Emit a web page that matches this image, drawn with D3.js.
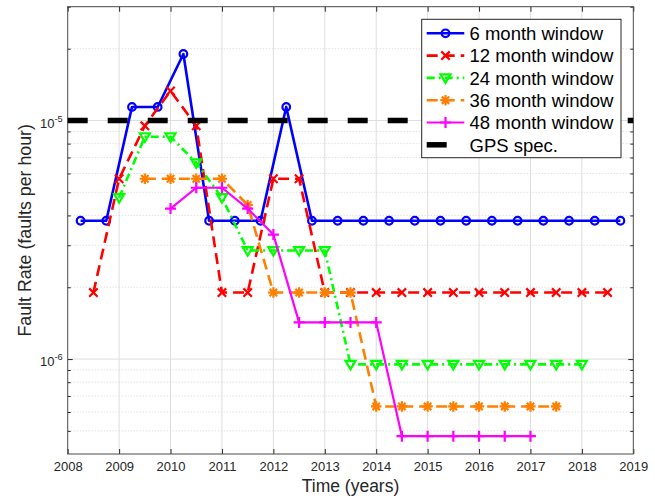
<!DOCTYPE html>
<html>
<head>
<meta charset="utf-8">
<script src="https://cdn.jsdelivr.net/npm/d3@7"></script>
<style>
  html, body { margin: 0; padding: 0; background: #fff; }
  svg { display: block; font-family: "Liberation Sans", Arial, Helvetica, sans-serif; }
</style>
</head>
<body>
<svg id="chart" width="655" height="499"></svg>
<script>
// Fault rate per window length, sampled every half year
const years6  = [2008.25, 2008.75, 2009.25, 2009.75, 2010.25, 2010.75, 2011.25, 2011.75, 2012.25, 2012.75,
                 2013.25, 2013.75, 2014.25, 2014.75, 2015.25, 2015.75, 2016.25, 2016.75, 2017.25, 2017.75, 2018.25, 2018.75];
const rate6   = [3.8e-6, 3.8e-6, 1.14e-5, 1.14e-5, 1.9e-5, 3.8e-6, 3.8e-6, 3.8e-6, 1.14e-5, 3.8e-6,
                 3.8e-6, 3.8e-6, 3.8e-6, 3.8e-6, 3.8e-6, 3.8e-6, 3.8e-6, 3.8e-6, 3.8e-6, 3.8e-6, 3.8e-6, 3.8e-6];

const years12 = [2008.5, 2009, 2009.5, 2010, 2010.5, 2011, 2011.5, 2012, 2012.5, 2013,
                 2013.5, 2014, 2014.5, 2015, 2015.5, 2016, 2016.5, 2017, 2017.5, 2018, 2018.5];
const rate12  = [1.9e-6, 5.7e-6, 9.5e-6, 1.33e-5, 9.5e-6, 1.9e-6, 1.9e-6, 5.7e-6, 5.7e-6, 1.9e-6,
                 1.9e-6, 1.9e-6, 1.9e-6, 1.9e-6, 1.9e-6, 1.9e-6, 1.9e-6, 1.9e-6, 1.9e-6, 1.9e-6, 1.9e-6];

const years24 = [2009, 2009.5, 2010, 2010.5, 2011, 2011.5, 2012, 2012.5, 2013, 2013.5,
                 2014, 2014.5, 2015, 2015.5, 2016, 2016.5, 2017, 2017.5, 2018];
const rate24  = [4.75e-6, 8.55e-6, 8.55e-6, 6.65e-6, 4.75e-6, 2.85e-6, 2.85e-6, 2.85e-6, 2.85e-6, 9.5e-7,
                 9.5e-7, 9.5e-7, 9.5e-7, 9.5e-7, 9.5e-7, 9.5e-7, 9.5e-7, 9.5e-7, 9.5e-7];

const years36 = [2009.5, 2010, 2010.5, 2011, 2011.5, 2012, 2012.5, 2013, 2013.5,
                 2014, 2014.5, 2015, 2015.5, 2016, 2016.5, 2017, 2017.5];
const rate36  = [5.7e-6, 5.7e-6, 5.7e-6, 5.7e-6, 4.43e-6, 1.9e-6, 1.9e-6, 1.9e-6, 1.9e-6,
                 6.33e-7, 6.33e-7, 6.33e-7, 6.33e-7, 6.33e-7, 6.33e-7, 6.33e-7, 6.33e-7];

const years48 = [2010, 2010.5, 2011, 2011.5, 2012, 2012.5, 2013, 2013.5, 2014,
                 2014.5, 2015, 2015.5, 2016, 2016.5, 2017];
const rate48  = [4.275e-6, 5.225e-6, 5.225e-6, 4.275e-6, 3.325e-6, 1.425e-6, 1.425e-6, 1.425e-6, 1.425e-6,
                 4.75e-7, 4.75e-7, 4.75e-7, 4.75e-7, 4.75e-7, 4.75e-7];

const specYears = [2008, 2019];
const specRate  = [1e-5, 1e-5];

const seriesNames = ["6 month window", "12 month window", "24 month window", "36 month window", "48 month window", "GPS spec."];
const xTickYears = [2008, 2009, 2010, 2011, 2012, 2013, 2014, 2015, 2016, 2017, 2018, 2019];
const yMajorTicks = [1e-6, 1e-5];
const yMinorTicks = [5e-7, 6e-7, 7e-7, 8e-7, 9e-7, 2e-6, 3e-6, 4e-6, 5e-6, 6e-6, 7e-6, 8e-6, 9e-6, 2e-5, 3e-5];

const svg = d3.select("#chart");
const plotLeft = 67.7, plotRight = 633.3, plotTop = 6.7, plotBottom = 454;

const x = d3.scaleLinear().domain([2008, 2019]).range([plotLeft, plotRight]);
const y = d3.scaleLog().domain([4e-7, 3e-5]).range([plotBottom, plotTop]);

const axisColor = "#262626";
const gridColor = "#dedede";

// grid
const grid = svg.append("g");
grid.selectAll(".gx").data(xTickYears.slice(1, -1)).join("line")
  .attr("x1", d => x(d)).attr("x2", d => x(d)).attr("y1", plotTop).attr("y2", plotBottom)
  .attr("stroke", gridColor).attr("stroke-width", 1);
grid.selectAll(".gym").data(yMinorTicks.filter(v => v < 3e-5)).join("line")
  .attr("x1", plotLeft).attr("x2", plotRight).attr("y1", d => y(d)).attr("y2", d => y(d))
  .attr("stroke", "#d4d4d4").attr("stroke-width", 1).attr("stroke-dasharray", "1,2");
grid.selectAll(".gy").data(yMajorTicks).join("line")
  .attr("x1", plotLeft).attr("x2", plotRight).attr("y1", d => y(d)).attr("y2", d => y(d))
  .attr("stroke", gridColor).attr("stroke-width", 1);

// axes (ticks pointing inward, mirrored on top and right)
const xAxisB = d3.axisBottom(x).tickValues(xTickYears).tickFormat(d3.format("d")).tickSizeInner(-5).tickSizeOuter(0).tickPadding(8);
const gxb = svg.append("g").attr("transform", `translate(0,${plotBottom})`).call(xAxisB);
const xAxisT = d3.axisTop(x).tickValues(xTickYears).tickFormat("").tickSizeInner(-5).tickSizeOuter(0);
const gxt = svg.append("g").attr("transform", `translate(0,${plotTop})`).call(xAxisT);

const yAxisL = d3.axisLeft(y).tickValues(yMajorTicks).tickFormat("").tickSizeInner(-5).tickSizeOuter(0);
const gyl = svg.append("g").attr("transform", `translate(${plotLeft},0)`).call(yAxisL);
const yAxisLm = d3.axisLeft(y).tickValues(yMinorTicks).tickFormat("").tickSizeInner(-3).tickSizeOuter(0);
const gylm = svg.append("g").attr("transform", `translate(${plotLeft},0)`).call(yAxisLm);
const yAxisR = d3.axisRight(y).tickValues(yMajorTicks).tickFormat("").tickSizeInner(-5).tickSizeOuter(0);
const gyr = svg.append("g").attr("transform", `translate(${plotRight},0)`).call(yAxisR);
const yAxisRm = d3.axisRight(y).tickValues(yMinorTicks).tickFormat("").tickSizeInner(-3).tickSizeOuter(0);
const gyrm = svg.append("g").attr("transform", `translate(${plotRight},0)`).call(yAxisRm);

[gxb, gxt, gyl, gylm, gyr, gyrm].forEach(g => {
  g.attr("font-family", null).attr("font-size", null);
  g.select(".domain").remove();
  g.selectAll("line").attr("stroke", axisColor).attr("stroke-width", 1);
});
gxb.selectAll("text").attr("fill", axisColor).attr("font-size", 13).attr("dy", "0.7em");

// box
svg.append("rect").attr("x", plotLeft).attr("y", plotTop).attr("width", plotRight - plotLeft).attr("height", plotBottom - plotTop)
  .attr("fill", "none").attr("stroke", "#4a4a4a").attr("stroke-width", 1);

// y tick labels as powers of ten
const ylab = svg.append("g");
yMajorTicks.forEach(v => {
  const t = ylab.append("text").attr("x", plotLeft - 5).attr("y", y(v) + 7)
    .attr("text-anchor", "end").attr("fill", axisColor).attr("font-size", 13);
  t.append("tspan").text("10");
  t.append("tspan").attr("dy", -6).attr("font-size", 9.2).text(String(Math.round(Math.log10(v))));
});

// axis titles
svg.append("text").attr("x", (plotLeft + plotRight) / 2).attr("y", 492).attr("text-anchor", "middle")
  .attr("font-size", 17.5).attr("fill", axisColor).text("Time (years)");
svg.append("text").attr("transform", `translate(30.5,${(plotTop + plotBottom) / 2}) rotate(-90)`)
  .attr("text-anchor", "middle").attr("font-size", 17.8).attr("fill", axisColor)
  .text("Fault Rate (faults per hour)");

// marker shapes
function markerPath(kind) {
  switch (kind) {
    case "circle": return d3.symbol().type(d3.symbolCircle).size(Math.PI * 3.8 * 3.8)();
    case "x": return "M-4.2,-4.2L4.2,4.2M-4.2,4.2L4.2,-4.2";
    case "tri": return "M-5,-3.5L5,-3.5L0,5Z";
    case "star": return "M0,-5.2L0,5.2M-5.2,0L5.2,0M-3.7,-3.7L3.7,3.7M-3.7,3.7L3.7,-3.7";
    case "plus": return "M0,-5.5L0,5.5M-5.5,0L5.5,0";
    default: return "";
  }
}

const series = [
  { name: seriesNames[0], xs: years6,  ys: rate6,  color: "#0000ff", dash: null,        marker: "circle", width: 2.6 },
  { name: seriesNames[1], xs: years12, ys: rate12, color: "#ff0000", dash: "11,6",      marker: "x",      width: 2.6 },
  { name: seriesNames[2], xs: years24, ys: rate24, color: "#00ff00", dash: "8,4,2,4",   marker: "tri",    width: 2.6 },
  { name: seriesNames[3], xs: years36, ys: rate36, color: "#ff8000", dash: "11,6",      marker: "star",   width: 2.6 },
  { name: seriesNames[4], xs: years48, ys: rate48, color: "#ff00ff", dash: null,        marker: "plus",   width: 2.2 },
  { name: seriesNames[5], xs: specYears, ys: specRate, color: "#000000", dash: "20,20", marker: null,     width: 5.5 }
];

const line = d3.line().x(d => x(d[0])).y(d => y(d[1]));

series.forEach(s => {
  const pts = s.xs.map((v, i) => [v, s.ys[i]]);
  const g = svg.append("g");
  g.append("path").datum(pts).attr("d", line)
    .attr("fill", "none").attr("stroke", s.color).attr("stroke-width", s.width)
    .attr("stroke-dasharray", s.dash).attr("stroke-linejoin", "round");
  if (s.marker) {
    g.selectAll("path.m").data(pts).join("path").attr("class", "m")
      .attr("transform", d => `translate(${x(d[0])},${y(d[1])})`)
      .attr("d", markerPath(s.marker))
      .attr("fill", "none").attr("stroke", s.color).attr("stroke-width", 2.2);
  }
});

// legend
const lg = svg.append("g");
lg.append("rect").attr("x", 421.7).attr("y", 19.3).attr("width", 199.3).attr("height", 138.4)
  .attr("fill", "#fff").attr("stroke", "#262626").attr("stroke-width", 1);
series.forEach((s, i) => {
  const cy = 33.3 + i * 22.3;
  lg.append("line").attr("x1", 426.7).attr("x2", 464.3).attr("y1", cy).attr("y2", cy)
    .attr("stroke", s.color).attr("stroke-width", s.width).attr("stroke-dasharray", s.dash);
  if (s.marker) {
    lg.append("path").attr("transform", `translate(445.5,${cy})`).attr("d", markerPath(s.marker))
      .attr("fill", "none").attr("stroke", s.color).attr("stroke-width", 2.2);
  }
  lg.append("text").attr("x", 469.5).attr("y", cy + 6.8).attr("font-size", 18.5).attr("fill", "#000")
    .text(s.name);
});
</script>
</body>
</html>
